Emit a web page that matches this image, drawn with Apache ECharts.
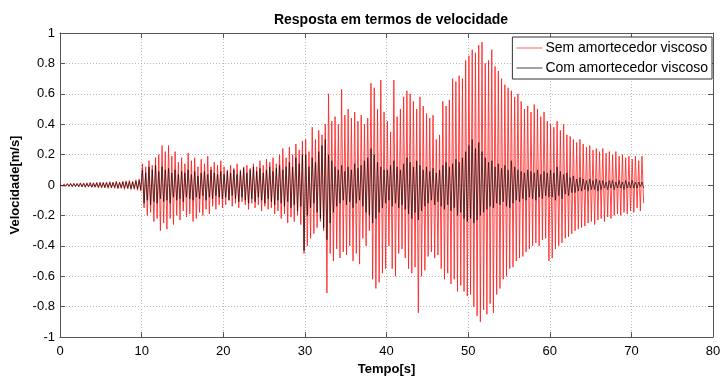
<!DOCTYPE html>
<html>
<head>
<meta charset="utf-8">
<script src="https://cdn.jsdelivr.net/npm/echarts@6/dist/echarts.min.js"></script>
<style>html,body{margin:0;padding:0;background:#fff}#c{width:726px;height:381px}</style>
</head>
<body>
<div id="c"></div>
<script>
// sample timing: one oscillation cycle every 0.4 s (peak at +0.1, trough at +0.3)
const cyclePeriod = 0.4;
const xTicks = [0,10,20,30,40,50,60,70,80];
const yTicks = [-1,-0.8,-0.6,-0.4,-0.2,0,0.2,0.4,0.6,0.8,1];
const seriesNames = ['Sem amortecedor viscoso','Com amortecedor viscoso'];

// Red: positive peaks per cycle
const semPeaks = [
 0.005,0.008,0.01,0.012,0.01,0.012,0.015,0.012,0.015,0.018, 0.015,0.018,0.02,0.018,0.02,0.022,0.02,0.025,0.02,0.025, 0.028,0.03,0.025,0.035,0.04,
 0.14,0.12,0.16,0.13,0.18,0.2,0.26,0.22,0.26,0.19, 0.22,0.15,0.18,0.14,0.21,0.16,0.18,0.12,0.17,0.14, 0.19,0.12,0.15,0.13,0.16,
 0.12,0.1,0.13,0.11,0.14,0.1,0.12,0.13,0.11,0.14, 0.12,0.16,0.13,0.17,0.15,0.18,0.14,0.2,0.24,0.18, 0.25,0.2,0.27,0.23,0.29,
 0.3,0.22,0.38,0.3,0.36,0.33,0.4,0.6,0.42,0.45, 0.4,0.63,0.46,0.5,0.44,0.48,0.42,0.46,0.4,0.44, 0.67,0.64,0.5,0.69,0.48,
 0.42,0.35,0.69,0.45,0.5,0.58,0.62,0.6,0.55,0.5, 0.58,0.52,0.47,0.44,0.46,0.3,0.33,0.55,0.52,0.56, 0.7,0.68,0.72,0.7,0.82,
 0.85,0.89,0.87,0.92,0.94,0.8,0.82,0.89,0.78,0.75, 0.7,0.66,0.64,0.62,0.58,0.6,0.55,0.5,0.52,0.48, 0.53,0.5,0.45,0.48,0.42,
 0.4,0.38,0.42,0.36,0.4,0.33,0.32,0.3,0.28,0.3, 0.27,0.25,0.26,0.23,0.24,0.22,0.24,0.21,0.22,0.2, 0.22,0.19,0.2,0.18,0.19,0.17,0.19,0.16,0.19
];
// Red: negative troughs per cycle
const semTroughs = [
 -0.006,-0.008,-0.01,-0.012,-0.01,-0.013,-0.012,-0.015,-0.013,-0.016, -0.015,-0.018,-0.02,-0.018,-0.022,-0.02,-0.022,-0.025,-0.022,-0.028, -0.025,-0.03,-0.028,-0.035,-0.04,
 -0.15,-0.2,-0.18,-0.24,-0.22,-0.3,-0.25,-0.29,-0.22,-0.26, -0.2,-0.23,-0.17,-0.21,-0.19,-0.24,-0.22,-0.18,-0.2,-0.16, -0.19,-0.14,-0.16,-0.13,-0.15,
 -0.13,-0.1,-0.14,-0.12,-0.15,-0.11,-0.13,-0.16,-0.12,-0.15, -0.13,-0.17,-0.14,-0.16,-0.15,-0.19,-0.17,-0.22,-0.19,-0.25, -0.21,-0.24,-0.2,-0.26,-0.45,
 -0.4,-0.35,-0.32,-0.28,-0.24,-0.3,-0.71,-0.45,-0.5,-0.42, -0.48,-0.44,-0.46,-0.4,-0.5,-0.45,-0.52,-0.35,-0.4,-0.3, -0.62,-0.68,-0.64,-0.58,-0.55,
 -0.4,-0.55,-0.6,-0.45,-0.42,-0.48,-0.55,-0.58,-0.54,-0.84, -0.6,-0.56,-0.47,-0.44,-0.48,-0.46,-0.55,-0.62,-0.58,-0.65, -0.62,-0.7,-0.66,-0.7,-0.73,
 -0.72,-0.8,-0.86,-0.9,-0.82,-0.85,-0.78,-0.84,-0.72,-0.68, -0.62,-0.6,-0.55,-0.54,-0.5,-0.48,-0.47,-0.44,-0.42,-0.4, -0.38,-0.4,-0.36,-0.35,-0.5,
 -0.48,-0.42,-0.4,-0.38,-0.35,-0.34,-0.32,-0.3,-0.29,-0.28, -0.27,-0.25,-0.24,-0.26,-0.23,-0.22,-0.24,-0.21,-0.22,-0.2, -0.19,-0.2,-0.18,-0.19,-0.17,-0.18,-0.15,-0.17,-0.12
];
// Black: positive peaks per cycle
const comPeaks = [
 0.004,0.006,0.008,0.008,0.01,0.008,0.01,0.012,0.01,0.012, 0.012,0.014,0.012,0.015,0.014,0.016,0.015,0.018,0.016,0.02, 0.02,0.022,0.02,0.025,0.03,
 0.1,0.08,0.12,0.1,0.13,0.09,0.12,0.1,0.11,0.08, 0.1,0.07,0.09,0.08,0.1,0.07,0.09,0.06,0.08,0.09, 0.07,0.1,0.08,0.07,0.09,
 0.07,0.09,0.08,0.1,0.07,0.09,0.11,0.08,0.1,0.12, 0.09,0.11,0.08,0.1,0.12,0.09,0.11,0.13,0.1,0.12, 0.15,0.12,0.18,0.14,0.2,
 0.2,0.12,0.18,0.15,0.22,0.26,0.3,0.2,0.16,0.12, 0.1,0.13,0.09,0.12,0.1,0.14,0.11,0.13,0.16,0.18, 0.24,0.2,0.15,0.12,0.1,
 0.1,0.13,0.16,0.12,0.1,0.14,0.18,0.15,0.12,0.16, 0.13,0.1,0.12,0.09,0.11,0.08,0.1,0.13,0.15,0.12, 0.14,0.17,0.15,0.18,0.22,
 0.26,0.3,0.24,0.28,0.22,0.18,0.15,0.16,0.12,0.14, 0.11,0.13,0.1,0.16,0.12,0.1,0.09,0.08,0.1,0.09, 0.08,0.1,0.07,0.09,0.08,
 0.1,0.08,0.12,0.09,0.07,0.08,0.05,0.06,0.04,0.05, 0.04,0.03,0.04,0.03,0.04,0.03,0.03,0.02,0.03,0.03, 0.02,0.03,0.02,0.03,0.02,0.03,0.02,0.02,0.02
];
// Black: negative troughs per cycle
const comTroughs = [
 -0.005,-0.006,-0.008,-0.009,-0.01,-0.009,-0.011,-0.012,-0.01,-0.013, -0.012,-0.014,-0.013,-0.015,-0.014,-0.016,-0.015,-0.018,-0.017,-0.02, -0.02,-0.022,-0.021,-0.025,-0.03,
 -0.12,-0.1,-0.13,-0.11,-0.12,-0.09,-0.11,-0.1,-0.12,-0.08, -0.1,-0.09,-0.11,-0.08,-0.09,-0.1,-0.08,-0.09,-0.07,-0.1, -0.08,-0.09,-0.07,-0.08,-0.09,
 -0.08,-0.1,-0.07,-0.09,-0.11,-0.08,-0.1,-0.12,-0.09,-0.11, -0.08,-0.1,-0.12,-0.09,-0.11,-0.13,-0.1,-0.12,-0.14,-0.11, -0.15,-0.13,-0.17,-0.14,-0.43,
 -0.2,-0.15,-0.12,-0.18,-0.22,-0.28,-0.36,-0.25,-0.18,-0.14, -0.12,-0.1,-0.13,-0.11,-0.15,-0.12,-0.1,-0.14,-0.18,-0.2, -0.25,-0.22,-0.18,-0.15,-0.12,
 -0.1,-0.14,-0.12,-0.15,-0.13,-0.16,-0.19,-0.22,-0.18,-0.23, -0.17,-0.14,-0.12,-0.1,-0.13,-0.11,-0.14,-0.16,-0.13,-0.17, -0.15,-0.2,-0.18,-0.22,-0.24,
 -0.22,-0.25,-0.23,-0.2,-0.18,-0.16,-0.14,-0.15,-0.12,-0.13, -0.11,-0.14,-0.15,-0.12,-0.1,-0.11,-0.09,-0.1,-0.08,-0.09, -0.1,-0.08,-0.09,-0.07,-0.08,
 -0.08,-0.1,-0.07,-0.09,-0.06,-0.07,-0.05,-0.05,-0.04,-0.04, -0.03,-0.04,-0.03,-0.03,-0.04,-0.03,-0.02,-0.03,-0.02,-0.03, -0.02,-0.02,-0.03,-0.02,-0.02,-0.02,-0.02,-0.01,-0.02
];

function build(peaks, troughs){
  const out = [[0,0]];
  for (let i=0;i<peaks.length;i++){
    out.push([+(i*cyclePeriod+0.1).toFixed(2), peaks[i]]);
    out.push([+(i*cyclePeriod+0.3).toFixed(2), troughs[i]]);
  }
  return out;
}

const chart = echarts.init(document.getElementById('c'), null, {renderer:'canvas'});
const font = 'Liberation Sans, Arial, Helvetica, sans-serif';
const axisCommon = {
  type:'value',
  axisLine:{show:true, onZero:false, lineStyle:{color:'#555', width:1}},
  axisTick:{show:true, inside:true, length:5, lineStyle:{color:'#555'}},
  splitLine:{show:false},
};
chart.setOption({
  animation:false,
  backgroundColor:'#fff',
  textStyle:{fontFamily:font},
  title:{
    text:'Resposta em termos de velocidade',
    left:386, top:8, textAlign:'center',
    textStyle:{fontFamily:font, fontSize:14, fontWeight:'bold', color:'#000'}
  },
  legend:{
    orient:'vertical', right:14, top:37,
    backgroundColor:'#fff', borderColor:'#333', borderWidth:1,
    padding:[4,4,4,4], itemGap:6,
    itemWidth:26, itemHeight:1, icon:'rect',
    textStyle:{fontFamily:font, fontSize:14, color:'#000', padding:[0,0,0,-2]},
    data:seriesNames
  },
  grid:{left:60, right:13, top:33, bottom:40, containLabel:false},
  xAxis:[
    Object.assign({}, axisCommon, {
      min:xTicks[0], max:xTicks[xTicks.length-1], interval:10, position:'bottom',
      name:'Tempo[s]', nameLocation:'middle', nameGap:21,
      nameTextStyle:{fontFamily:font, fontSize:13, fontWeight:'bold', color:'#000'},
      axisLabel:{color:'#000', fontSize:13, fontFamily:font, margin:8},
      splitLine:{show:true, lineStyle:{color:'#bbb', type:[1,2], width:1}}
    }),
    Object.assign({}, axisCommon, {
      min:xTicks[0], max:xTicks[xTicks.length-1], interval:10, position:'top',
      axisLabel:{show:false}
    })
  ],
  yAxis:[
    Object.assign({}, axisCommon, {
      min:yTicks[0], max:yTicks[yTicks.length-1], interval:0.2, position:'left',
      name:'Velocidade[m/s]', nameLocation:'middle', nameGap:26,
      nameTextStyle:{fontFamily:font, fontSize:13, fontWeight:'bold', color:'#000'},
      axisLabel:{color:'#000', fontSize:13, fontFamily:font, margin:5,
        formatter:v=>String(Math.round(v*10)/10)},
      splitLine:{show:true, lineStyle:{color:'#bbb', type:[1,2], width:1}}
    }),
    Object.assign({}, axisCommon, {
      min:yTicks[0], max:yTicks[yTicks.length-1], interval:0.2, position:'right',
      axisLabel:{show:false}
    })
  ],
  series:[
    {name:seriesNames[0], type:'line', xAxisIndex:0, yAxisIndex:0, data:build(semPeaks, semTroughs),
     showSymbol:false, symbol:'none', lineStyle:{color:'#ff1a1a', width:0.8}, itemStyle:{color:'#ff6060'}, z:2},
    {name:seriesNames[1], type:'line', xAxisIndex:0, yAxisIndex:0, data:build(comPeaks, comTroughs),
     showSymbol:false, symbol:'none', lineStyle:{color:'#000', width:0.6}, itemStyle:{color:'#444'}, z:3}
  ]
});
</script>
</body>
</html>
